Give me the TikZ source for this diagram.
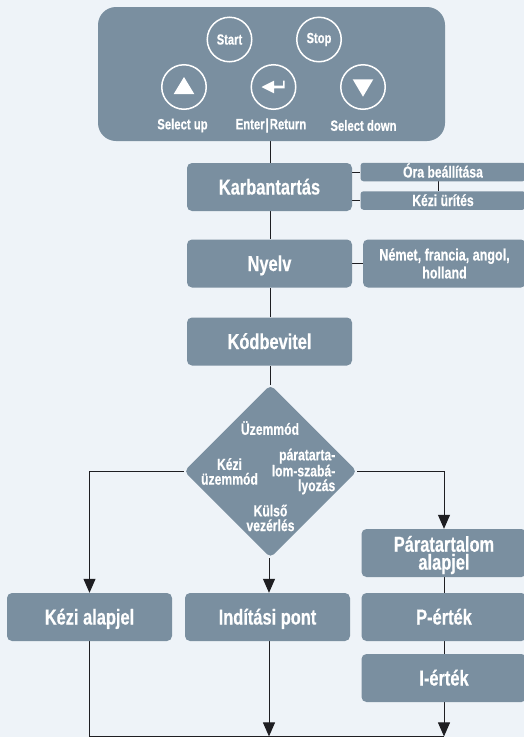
\documentclass[tikz,border=0pt]{standalone}
\usepackage{fontspec}
\setmainfont[FakeStretch=0.76,BoldFont={Liberation Sans Bold},BoldFeatures={FakeBold=0.5}]{Liberation Sans}
\usetikzlibrary{arrows.meta,shapes.geometric,backgrounds}
\definecolor{pagebg}{HTML}{EEF3F8}
\definecolor{boxfill}{HTML}{7A8FA0}
\definecolor{linecol}{HTML}{1E1E22}
\tikzset{
  x=1pt,y=-1pt,
  panel/.style={fill=boxfill,rounded corners=18pt,minimum width=347pt,minimum height=134pt,inner sep=0pt},
  mainbox/.style={fill=boxfill,rounded corners=5pt,minimum width=165pt,minimum height=48pt,inner sep=0pt,text=white,align=center,font=\bfseries\fontsize{21.6}{17.7}\selectfont},
  oneline/.style={text height=15pt,text depth=0pt},
  sidebox/.style={fill=boxfill,rounded corners=3pt,minimum width=165pt,minimum height=18.5pt,inner sep=0pt,text=white,text height=11pt,text depth=0pt,align=center,font=\bfseries\fontsize{16}{16}\selectfont},
  knob/.style={circle,draw=white,line width=1.5pt,minimum size=44.5pt,inner sep=0pt,text=white,font=\bfseries\fontsize{14.7}{14.7}\selectfont},
  keylabel/.style={text=white,inner sep=0pt,font=\bfseries\fontsize{14.9}{14.9}\selectfont},
  dmtext/.style={text=white,inner sep=0pt,align=center,font=\bfseries\fontsize{16}{14.7}\selectfont},
  paraline/.style={text=white,inner sep=0pt,anchor=base,font=\bfseries\fontsize{21.6}{21.6}\selectfont},
  conn/.style={draw=linecol,line width=1pt},
  arr/.style={conn,-{Triangle[length=14pt,width=12pt]}},
}
\begin{document}
\begin{tikzpicture}
\useasboundingbox (0,0) rectangle (524,737);
\node[panel] (pnl) at (271.5,74) {};
\node[knob] (start) at (229.5,39.5) {Start};
\node[knob] (stop) at (319,39.5) {Stop};
\node[knob] (up) at (184,87) {};
\node[knob] (ent) at (273.5,87) {};
\node[knob] (down) at (363,87) {};
\fill[white] (173.7,94) -- (194.3,94) -- (184,77) -- cycle;
\fill[white] (352.7,79.3) -- (373.3,79.3) -- (363,96.7) -- cycle;
\fill[white] (261.5,87) -- (274,80.7) -- (274,85.7) -- (283,85.7) -- (283,80.7) -- (284.6,80.7) -- (284.6,88.3) -- (274,88.3) -- (274,93.3) -- cycle;
\node[keylabel] (lup) at (182.5,125.5) {Select up};
\node[keylabel] (lent) at (271,125.5) {Enter\kern1pt|\kern1pt Return};
\node[keylabel] (ldown) at (363.5,125.5) {Select down};
\node[mainbox,oneline] (karb) at (269.5,187) {Karbantartás};
\node[sidebox] (ora) at (443,172) {Óra beállítása};
\node[sidebox] (kezu) at (443,200.5) {Kézi ürítés};
\node[mainbox,oneline] (nyelv) at (269.5,263.5) {Nyelv};
\node[mainbox,minimum width=163pt,font=\bfseries\fontsize{16.5}{18}\selectfont] (nemet) at (444.5,263.5) {Német, francia, angol,\\holland};
\node[mainbox,oneline] (kod) at (269.5,341.5) {Kódbevitel};
\node[diamond,fill=boxfill,aspect=1,rounded corners=5pt,minimum width=173pt,minimum height=173pt,inner sep=0pt] (dm) at (270.5,471.3) {};
\node[dmtext] (t1) at (270,428) {Üzemmód};
\node[dmtext] (t2) at (229.5,471.5) {Kézi\\üzemmód};
\node[dmtext,align=right] (t3) at (303.5,471.5) {páratarta-\\lom-szabá-\\lyozás};
\node[dmtext] (t4) at (270.5,518) {Külső\\vezérlés};
\node[mainbox,oneline] (kezi) at (89.5,617) {Kézi alapjel};
\node[mainbox,oneline] (ind) at (267.5,617) {Indítási pont};
\node[mainbox] (para) at (444,553) {};
\node[paraline] (para1) at (444,551.7) {Páratartalom};
\node[paraline] (para2) at (444,569.6) {alapjel};
\node[mainbox,oneline] (pe) at (444,617) {P-érték};
\node[mainbox,oneline] (ie) at (444,678) {I-érték};
\coordinate (spine) at (270.7,0);
\coordinate (bl) at (kezi.south |- 0,736.4);
\coordinate (bm) at (269,736.4);
\coordinate (br) at (ie.south |- 0,736.4);
\begin{scope}[on background layer]
\fill[pagebg] (0,0) rectangle (524,737);
\draw[conn] (pnl.south -| spine) -- (karb.north -| spine);
\draw[conn] (karb.south -| spine) -- (nyelv.north -| spine);
\draw[conn] (nyelv.south -| spine) -- (kod.north -| spine);
\draw[conn] (kod.south -| spine) -- (dm.north -| spine);
\draw[conn] (karb.east |- ora) -- (ora.west);
\draw[conn] (karb.east |- kezu) -- (kezu.west);
\draw[conn] (438.7,181) -- (438.7,191);
\draw[conn] (nyelv.east) -- (nemet.west);
\draw[arr] (dm.west) -| (kezi.north);
\draw[arr] (dm.east) -| (para.north);
\draw[arr] (dm.south -| bm) -- (ind.north -| bm);
\draw[conn] (para.south) -- (pe.north);
\draw[conn] (pe.south) -- (ie.north);
\draw[conn] (kezi.south) -- (bl) -- (br);
\draw[arr] (ind.south -| bm) -- (bm);
\draw[arr] (ie.south) -- (br);
\end{scope}
\end{tikzpicture}
\end{document}
